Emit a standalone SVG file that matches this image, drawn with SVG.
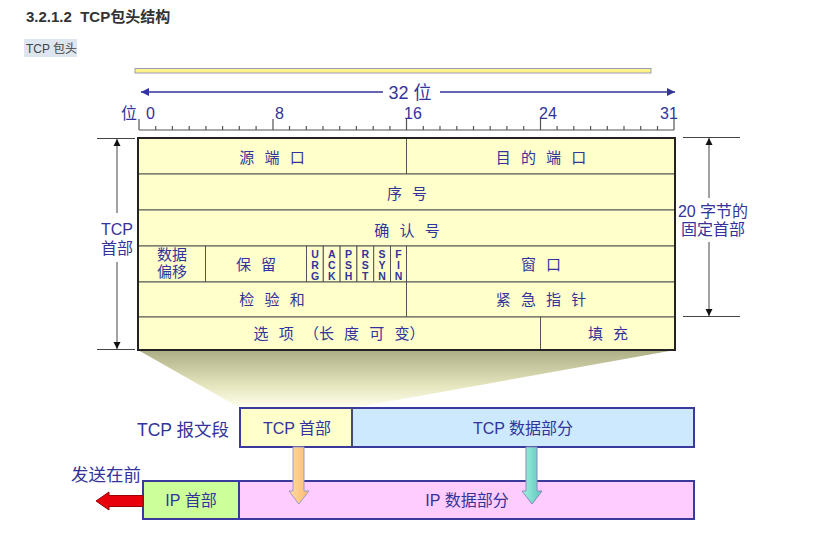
<svg xmlns="http://www.w3.org/2000/svg" width="815" height="542" viewBox="0 0 815 542">
<style>
text{font-family:"Liberation Sans","Noto Sans CJK SC",sans-serif;}
.t{font-size:15px;fill:#33339a;text-anchor:middle;word-spacing:6px;}
.lab{font-size:16px;fill:#33339a;}
.flag{font-size:10.5px;font-weight:bold;fill:#33339a;text-anchor:middle;}
.cell{fill:#ffffcc;stroke:#555;stroke-width:1;}
.dim{stroke:#444;stroke-width:1;fill:none;}
.tick{stroke:#555;stroke-width:1.2;}
.seg{stroke:#3a3a9c;stroke-width:2;}
</style>
<defs>
<marker id="ah" viewBox="0 0 10 10" refX="10" refY="5" markerWidth="7" markerHeight="9" orient="auto-start-reverse" markerUnits="userSpaceOnUse"><path d="M0,0 L10,5 L0,10 z" fill="#111"/></marker>
<marker id="bh" viewBox="0 0 10 10" refX="10" refY="5" markerWidth="12" markerHeight="8" orient="auto-start-reverse" markerUnits="userSpaceOnUse"><path d="M0,0 L10,5 L0,10 z" fill="#33339a"/></marker>
<linearGradient id="shadow" x1="0" y1="0" x2="0" y2="1"><stop offset="0" stop-color="#adad86"/><stop offset="0.6" stop-color="#e4e4bc"/><stop offset="1" stop-color="#ffffee"/></linearGradient>
<linearGradient id="org" x1="0" y1="0" x2="1" y2="0"><stop offset="0" stop-color="#ffdca0"/><stop offset="1" stop-color="#ffb870"/></linearGradient>
<linearGradient id="teal" x1="0" y1="0" x2="1" y2="0"><stop offset="0" stop-color="#9ff0e0"/><stop offset="1" stop-color="#5cc8bc"/></linearGradient>
</defs>
<rect width="815" height="542" fill="#fff"/>

<g id="heading">
<text x="26" y="22" font-size="15" font-weight="bold" fill="#333">3.2.1.2&#160;&#160;TCP包头结构</text>
<rect x="24" y="39" width="53" height="18" fill="#dde5ee"/>
<text x="26" y="53" font-size="12" fill="#444">TCP 包头</text>
</g>

<g id="topbar"><rect x="135" y="68.5" width="516" height="4.5" fill="#fcf487" stroke="#9a9ab8" stroke-width="1"/></g>

<g id="width32">
<line x1="141" y1="92" x2="383" y2="92" stroke="#33339a" stroke-width="1.3" marker-start="url(#bh)"/>
<line x1="440" y1="92" x2="675" y2="92" stroke="#33339a" stroke-width="1.3" marker-end="url(#bh)"/>
<text x="410" y="99" font-size="18" fill="#33339a" text-anchor="middle">32 位</text>
</g>

<g id="ruler">
<text x="121" y="119" class="lab">位</text>
<text x="146" y="119" class="lab">0</text>
<text x="275" y="119" class="lab">8</text>
<text x="404" y="119" class="lab">16</text>
<text x="539" y="119" class="lab">24</text>
<text x="660" y="119" class="lab">31</text>
<line x1="139" y1="130" x2="674" y2="130" class="tick"/>
<path class="tick" d="M139,119V130 M273,119V130 M406.5,119V130 M540.5,119V130 M674,119V130
M155.7,126V130 M172.4,126V130 M189.2,126V130 M205.9,126V130 M222.6,126V130 M239.3,126V130 M256.1,126V130
M289.5,126V130 M306.3,126V130 M323,126V130 M339.7,126V130 M356.4,126V130 M373.2,126V130 M389.9,126V130
M423.3,126V130 M440,126V130 M456.8,126V130 M473.5,126V130 M490.2,126V130 M506.9,126V130 M523.7,126V130
M557.1,126V130 M573.8,126V130 M590.6,126V130 M607.3,126V130 M624,126V130 M640.7,126V130 M657.5,126V130"/>
</g>

<g id="shadow-fan"><polygon points="138,350 675,350 352,408 240,408" fill="url(#shadow)"/></g>

<g id="header-table">
<g id="f-srcport"><rect x="138" y="138" width="268.5" height="36" class="cell"/><text x="272" y="163" class="t">源 端 口</text></g>
<g id="f-dstport"><rect x="406.5" y="138" width="268.5" height="36" class="cell"/><text x="541" y="163" class="t">目 的 端 口</text></g>
<g id="f-seq"><rect x="138" y="174" width="537" height="36" class="cell"/><text x="407" y="199" class="t">序 号</text></g>
<g id="f-ack"><rect x="138" y="210" width="537" height="36" class="cell"/><text x="407" y="236" class="t">确 认 号</text></g>
<g id="f-offset"><rect x="138" y="246" width="67.5" height="36" class="cell"/><text x="172" y="260" class="t">数据</text><text x="172" y="277" class="t">偏移</text></g>
<g id="f-reserved"><rect x="205.5" y="246" width="101" height="36" class="cell"/><text x="256" y="270" class="t">保 留</text></g>
<g id="f-urg"><rect x="306.5" y="246" width="16.8" height="36" class="cell"/><text x="315" y="257.5" class="flag">U</text><text x="315" y="268.5" class="flag">R</text><text x="315" y="279.5" class="flag">G</text></g>
<g id="f-ackflag"><rect x="323.3" y="246" width="16.8" height="36" class="cell"/><text x="331.7" y="257.5" class="flag">A</text><text x="331.7" y="268.5" class="flag">C</text><text x="331.7" y="279.5" class="flag">K</text></g>
<g id="f-psh"><rect x="340.1" y="246" width="16.8" height="36" class="cell"/><text x="348.5" y="257.5" class="flag">P</text><text x="348.5" y="268.5" class="flag">S</text><text x="348.5" y="279.5" class="flag">H</text></g>
<g id="f-rst"><rect x="356.9" y="246" width="16.8" height="36" class="cell"/><text x="365.3" y="257.5" class="flag">R</text><text x="365.3" y="268.5" class="flag">S</text><text x="365.3" y="279.5" class="flag">T</text></g>
<g id="f-syn"><rect x="373.7" y="246" width="16.8" height="36" class="cell"/><text x="382.1" y="257.5" class="flag">S</text><text x="382.1" y="268.5" class="flag">Y</text><text x="382.1" y="279.5" class="flag">N</text></g>
<g id="f-fin"><rect x="390.5" y="246" width="16" height="36" class="cell"/><text x="398.5" y="257.5" class="flag">F</text><text x="398.5" y="268.5" class="flag">I</text><text x="398.5" y="279.5" class="flag">N</text></g>
<g id="f-window"><rect x="406.5" y="246" width="268.5" height="36" class="cell"/><text x="541" y="270" class="t">窗 口</text></g>
<g id="f-checksum"><rect x="138" y="282" width="268.5" height="35" class="cell"/><text x="272" y="305" class="t">检 验 和</text></g>
<g id="f-urgptr"><rect x="406.5" y="282" width="268.5" height="35" class="cell"/><text x="541" y="305" class="t">紧 急 指 针</text></g>
<g id="f-options"><rect x="138" y="317" width="402.5" height="33" class="cell"/><text x="339" y="339" class="t">选 项 （长 度 可 变）</text></g>
<g id="f-padding"><rect x="540.5" y="317" width="134.5" height="33" class="cell"/><text x="608" y="339" class="t">填 充</text></g>
<rect x="138" y="138" width="537" height="212" fill="none" stroke="#222" stroke-width="2"/>
</g>

<g id="dim-tcp-header">
<line x1="97" y1="138.5" x2="135" y2="138.5" class="dim"/>
<line x1="97" y1="349.5" x2="135" y2="349.5" class="dim"/>
<line x1="117" y1="213" x2="117" y2="139" class="dim" marker-end="url(#ah)"/>
<line x1="117" y1="262" x2="117" y2="349" class="dim" marker-end="url(#ah)"/>
<text x="117" y="235" class="lab" text-anchor="middle">TCP</text>
<text x="117" y="254" class="lab" text-anchor="middle">首部</text>
</g>

<g id="dim-20bytes">
<line x1="683" y1="137.5" x2="740" y2="137.5" class="dim"/>
<line x1="683" y1="316.5" x2="740" y2="316.5" class="dim"/>
<line x1="709" y1="198" x2="709" y2="138" class="dim" marker-end="url(#ah)"/>
<line x1="709" y1="242" x2="709" y2="316" class="dim" marker-end="url(#ah)"/>
<text x="713" y="217" class="lab" text-anchor="middle">20 字节的</text>
<text x="713" y="235" class="lab" text-anchor="middle">固定首部</text>
</g>

<g id="tcp-segment">
<text x="229" y="436" font-size="17.5" fill="#33339a" text-anchor="end">TCP 报文段</text>
<rect x="240" y="408" width="112" height="39" fill="#ffffcc" class="seg"/>
<rect x="352" y="408" width="342" height="39" fill="#cce9fd" class="seg"/>
<line x1="352" y1="408" x2="352" y2="447" stroke="#555" stroke-width="1"/>
<text x="297" y="434" class="lab" text-anchor="middle">TCP 首部</text>
<text x="523" y="434" class="lab" text-anchor="middle">TCP 数据部分</text>
</g>

<g id="ip-datagram">
<text x="71" y="481" font-size="17.5" fill="#33339a">发送在前</text>
<rect x="143" y="481" width="96" height="38" fill="#ccff99" class="seg"/>
<rect x="239" y="481" width="455" height="38" fill="#ffccff" class="seg"/>
<text x="191" y="506" class="lab" text-anchor="middle">IP 首部</text>
<text x="467" y="506" class="lab" text-anchor="middle">IP 数据部分</text>
</g>

<g id="connectors">
<polygon points="293,447 304,447 304,491 309,491 298.8,504 289,491 293,491" fill="url(#org)" stroke="#9a9ac8" stroke-width="1"/>
<polygon points="526,447 537,447 537,491 542,491 532,504 522,491 526,491" fill="url(#teal)" stroke="#8a8abc" stroke-width="1"/>
<polygon points="96,501 109,492 109,495.5 143,495.5 143,506.5 109,506.5 109,510" fill="#e8000a" stroke="#900" stroke-width="1"/>
</g>
</svg>
